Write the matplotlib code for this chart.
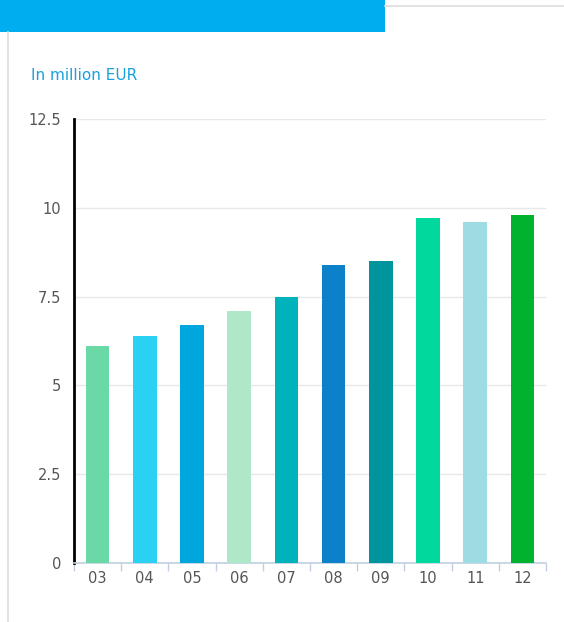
import matplotlib
matplotlib.use("Agg")
import matplotlib.pyplot as plt
from matplotlib.patches import Rectangle
from matplotlib.lines import Line2D

years = ["03", "04", "05", "06", "07", "08", "09", "10", "11", "12"]
values = [6.1, 6.4, 6.7, 7.1, 7.5, 8.4, 8.5, 9.7, 9.6, 9.8]
colors = ["#6BD8A8", "#2AD1F2", "#00A6DE", "#AEE8C8", "#00B2BC",
          "#0C80C8", "#00959C", "#00D89E", "#9CDCE2", "#00B22E"]
yticks = [0, 2.5, 5, 7.5, 10, 12.5]
ytick_labels = ["0", "2.5", "5", "7.5", "10", "12.5"]

W, H = 564, 622
fig = plt.figure(figsize=(W / 100, H / 100), dpi=100)
fig.patch.set_facecolor("white")

# page decoration: header banner, frame lines
fig.add_artist(Rectangle((0, 1 - 32 / H), 385 / W, 32 / H, transform=fig.transFigure,
                         facecolor="#00AEEF", edgecolor="none"))
fig.add_artist(Line2D([385 / W, 1], [1 - 6 / H, 1 - 6 / H], transform=fig.transFigure,
                      color="#dddddd", lw=1.2))
fig.add_artist(Line2D([7.5 / W, 7.5 / W], [0, 1 - 32 / H], transform=fig.transFigure,
                      color="#dddddd", lw=1.2))

fig.text(31 / W, 1 - 76 / H, "In million EUR", color="#1AA0DC", fontsize=11,
         va="center", ha="left", family="DejaVu Sans")

left, right, top, bottom = 74, 546, 119, 563
ax = fig.add_axes([left / W, 1 - bottom / H, (right - left) / W, (bottom - top) / H])
x = list(range(len(years)))
ax.bar(x, values, width=0.5, color=colors, zorder=3)
ax.set_xlim(-0.5, len(years) - 0.5)
ax.set_ylim(0, 12.5)

ax.set_yticks(yticks)
ax.set_yticklabels(ytick_labels)
ax.yaxis.grid(True, color="#e8e8e8", lw=1, zorder=0)
ax.set_xticks(x)
ax.set_xticklabels(years)
ax.set_xticks([i - 0.5 for i in range(len(years) + 1)], minor=True)
ax.tick_params(axis="x", which="major", length=0, pad=6, labelsize=10.5, labelcolor="#555555")
ax.tick_params(axis="x", which="minor", length=6, color="#c0d0e0", width=1)
ax.tick_params(axis="y", length=0, pad=9, labelsize=10.5, labelcolor="#555555")

for s in ["top", "right"]:
    ax.spines[s].set_visible(False)
ax.spines["left"].set_color("black")
ax.spines["left"].set_linewidth(2)
ax.spines["bottom"].set_color("#c0d0e0")
ax.spines["bottom"].set_linewidth(1.2)

fig.savefig("out.png", dpi=100)
